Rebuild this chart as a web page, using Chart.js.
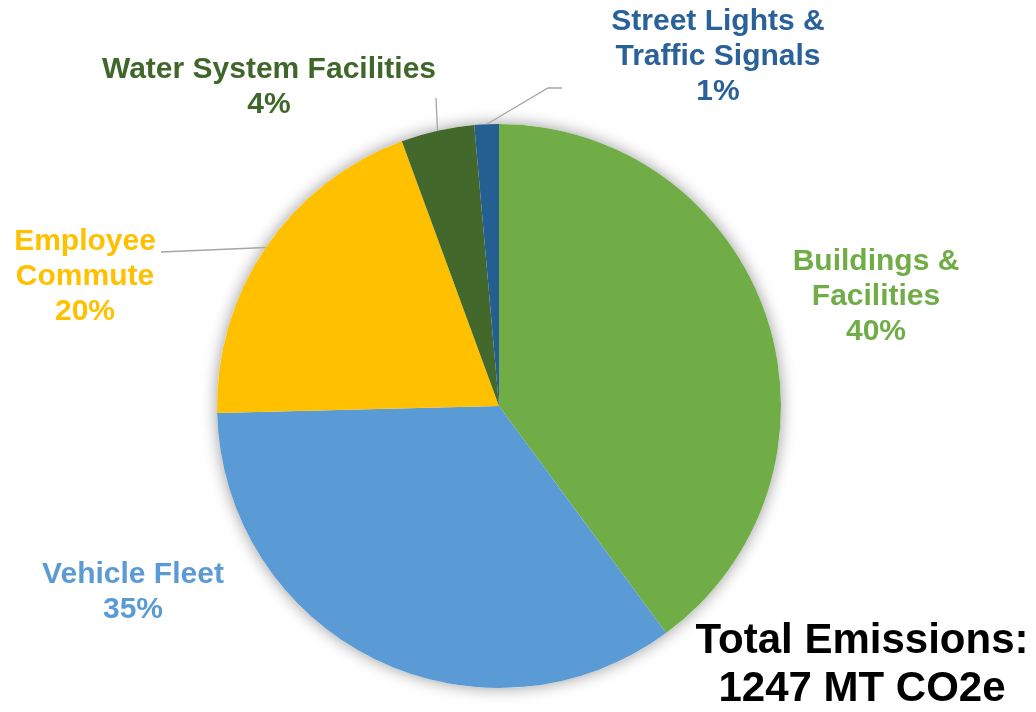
<!DOCTYPE html>
<html>
<head>
<meta charset="utf-8">
<script src="https://cdn.jsdelivr.net/npm/chart.js@4.4.0/dist/chart.umd.min.js"></script>
<style>
  html, body { margin: 0; padding: 0; background: #fff; }
  #wrap { width: 1036px; height: 712px; }
</style>
</head>
<body>
<div id="wrap"><canvas id="pie" width="1036" height="712"></canvas></div>
<script>
// Données (parts en %)
const categories = ['Buildings & Facilities', 'Vehicle Fleet', 'Employee Commute', 'Water System Facilities', 'Street Lights & Traffic Signals'];
const shares = [39.9, 34.7, 19.8, 4.2, 1.4];
const sliceColors = ['#70AD47', '#5B9BD5', '#FFC000', '#43682B', '#255E91'];
const labelColors = ['#70AD47', '#5B9BD5', '#FFC000', '#3F672A', '#2A6199'];
const labelLines = [
  ['Buildings &', 'Facilities'],
  ['Vehicle Fleet'],
  ['Employee', 'Commute'],
  ['Water System Facilities'],
  ['Street Lights &', 'Traffic Signals']
];
const totalLines = ['Total Emissions:', '1247 MT CO2e'];

const FONT = '"Liberation Sans", Arial, sans-serif';

// Position des étiquettes (centre de la première ligne) et coudes des lignes de rappel
const labelPos = [
  { x: 876, y: 262 },
  { x: 133, y: 575 },
  { x: 85, y: 242 },
  { x: 269, y: 70 },
  { x: 718, y: 22 }
];
const leaders = {
  2: [{ x: 161, y: 252 }],
  3: [{ x: 436, y: 98 }],
  4: [{ x: 548, y: 88 }, { x: 562, y: 88 }]
};

// Ombre douce autour du camembert
const shadowPlugin = {
  id: 'shadow',
  beforeDatasetsDraw(chart) {
    const arc = chart.getDatasetMeta(0).data[0];
    if (!arc) return;
    const ctx = chart.ctx;
    ctx.save();
    ctx.shadowColor = 'rgba(0,0,0,0.4)';
    ctx.shadowBlur = 16;
    ctx.fillStyle = '#ffffff';
    ctx.beginPath();
    ctx.arc(arc.x, arc.y, arc.outerRadius, 0, Math.PI * 2);
    ctx.fill();
    ctx.restore();
  }
};

// Étiquettes, lignes de rappel et total
const labelsPlugin = {
  id: 'labels',
  afterDatasetsDraw(chart) {
    const ctx = chart.ctx;
    const arcs = chart.getDatasetMeta(0).data;
    ctx.save();

    // Lignes de rappel depuis le bord de la part
    ctx.strokeStyle = '#A6A6A6';
    ctx.lineWidth = 1.3;
    Object.keys(leaders).forEach(k => {
      const a = arcs[k];
      const mid = (a.startAngle + a.endAngle) / 2;
      ctx.beginPath();
      ctx.moveTo(a.x + Math.cos(mid) * a.outerRadius, a.y + Math.sin(mid) * a.outerRadius);
      leaders[k].forEach(p => ctx.lineTo(p.x, p.y));
      ctx.stroke();
    });

    ctx.textAlign = 'center';
    ctx.textBaseline = 'middle';
    ctx.font = 'bold 30px ' + FONT;
    categories.forEach((c, i) => {
      const lines = labelLines[i].concat([Math.round(shares[i]) + '%']);
      ctx.fillStyle = labelColors[i];
      lines.forEach((t, j) => {
        ctx.fillText(t, labelPos[i].x, labelPos[i].y + j * 35);
      });
    });

    ctx.fillStyle = '#000000';
    ctx.font = 'bold 42px ' + FONT;
    totalLines.forEach((t, j) => {
      ctx.fillText(t, 862, 641 + j * 48);
    });
    ctx.restore();
  }
};

new Chart(document.getElementById('pie'), {
  type: 'pie',
  data: {
    labels: categories,
    datasets: [{
      data: shares,
      backgroundColor: sliceColors,
      borderWidth: 0
    }]
  },
  options: {
    responsive: false,
    animation: false,
    layout: {
      padding: { left: 217, right: 255, top: 124, bottom: 24 }
    },
    plugins: {
      legend: { display: false },
      tooltip: { enabled: false }
    }
  },
  plugins: [shadowPlugin, labelsPlugin]
});
</script>
</body>
</html>
